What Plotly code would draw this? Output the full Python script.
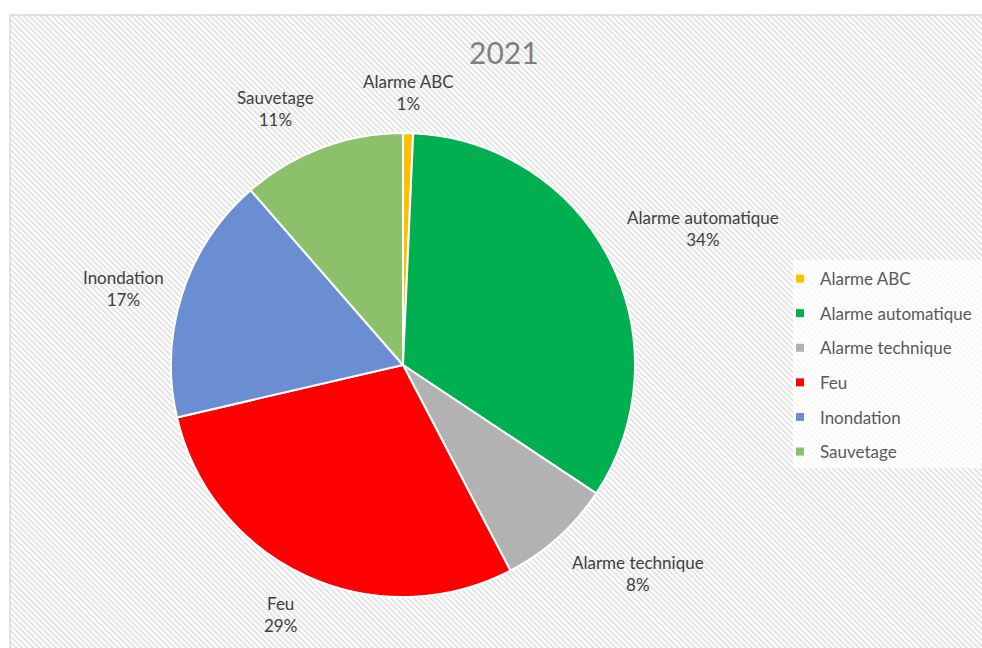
import math
import base64
import plotly.graph_objects as go

# ---------------- data ----------------
categories = ["Alarme ABC", "Alarme automatique", "Alarme technique",
              "Feu", "Inondation", "Sauvetage"]
values = [0.7, 33.6, 8.0, 29.0, 17.2, 11.4]
colors = ["#FFC000", "#00B050", "#B2B2B2", "#FF0000", "#6B8ED2", "#8CC06A"]
chart_title = "2021"

# ---------------- geometry ----------------
W, H = 982, 648
PIE_L, PIE_R, PIE_T, PIE_B = 171, 635, 133, 597
dom_x = [PIE_L / W, PIE_R / W]
dom_y = [1 - PIE_B / H, 1 - PIE_T / H]
cx, cy = (PIE_L + PIE_R) / 2, (PIE_T + PIE_B) / 2
R = (PIE_R - PIE_L) / 2
GAP = 17

FONT = "Lato, 'Open Sans', sans-serif"

fig = go.Figure()

fig.add_trace(go.Pie(
    labels=categories,
    values=values,
    sort=False,
    direction="clockwise",
    rotation=0,
    marker=dict(colors=colors, line=dict(color="#FFFFFF", width=2)),
    textinfo="none",
    hoverinfo="label+percent",
    showlegend=False,
    domain=dict(x=dom_x, y=dom_y),
))

# legend entries (square markers)
for cat, col in zip(categories, colors):
    fig.add_trace(go.Scatter(
        x=[None], y=[None], mode="markers", name=cat,
        legendgroup=cat,
        marker=dict(symbol="square", size=8, color=col),
    ))

# data labels placed outside the slices, positions derived from the values
total = sum(values)
cum = 0.0
annotations = []
for cat, v in zip(categories, values):
    mid = (cum + v / 2) / total * 2 * math.pi
    cum += v
    sx, sy = math.sin(mid), math.cos(mid)
    px = cx + (R + GAP) * sx
    py = cy - (R + GAP) * sy
    xa = "left" if sx > 0.25 else ("right" if sx < -0.25 else "center")
    ya = "bottom" if sy > 0.4 else ("top" if sy < -0.4 else "middle")
    pct = round(v / total * 100)
    annotations.append(dict(
        x=px / W, y=1 - py / H, xref="paper", yref="paper",
        text=f"{cat}<br>{pct}%", showarrow=False, align="center",
        xanchor=xa, yanchor=ya,
        font=dict(family=FONT, size=17, color="#404040"),
    ))

annotations.append(dict(
    x=504 / W, y=1 - 52 / H, xref="paper", yref="paper",
    text=chart_title, showarrow=False, xanchor="center", yanchor="middle",
    font=dict(family=FONT, size=30, color="#7F7F7F"),
))

# hatched chart-area background
svg = ("<svg xmlns='http://www.w3.org/2000/svg' width='1000' height='660'>"
       "<defs><pattern id='p' width='4' height='4' patternUnits='userSpaceOnUse' "
       "patternTransform='rotate(-45)'>"
       "<rect width='4' height='4' fill='#FFFFFF'/>"
       "<rect width='2' height='4' fill='#E4E4E4'/></pattern></defs>"
       "<rect width='100%' height='100%' fill='url(#p)'/></svg>")
src = "data:image/svg+xml;base64," + base64.b64encode(svg.encode()).decode()

fig.update_layout(
    width=W, height=H,
    margin=dict(l=0, r=0, t=0, b=0),
    paper_bgcolor="#FFFFFF",
    plot_bgcolor="rgba(0,0,0,0)",
    xaxis=dict(visible=False, range=[0, 1]),
    yaxis=dict(visible=False, range=[0, 1]),
    annotations=annotations,
    images=[dict(source=src, xref="paper", yref="paper",
                 x=10 / W, y=1 - 15 / H, sizex=1000 / W, sizey=660 / H,
                 xanchor="left", yanchor="top", sizing="stretch",
                 layer="below")],
    shapes=[
        dict(type="rect", xref="paper", yref="paper",
             x0=10 / W, x1=1000 / W, y0=1 - 670 / H, y1=1 - 15 / H,
             line=dict(color="#D9D9D9", width=1.5), fillcolor="rgba(0,0,0,0)",
             layer="below"),
        dict(type="rect", xref="paper", yref="paper",
             x0=793 / W, x1=1000 / W, y0=1 - 468 / H, y1=1 - 260 / H,
             line=dict(width=0), fillcolor="rgba(255,255,255,0.75)",
             layer="below"),
    ],
    legend=dict(
        x=780 / W, y=1 - 261 / H, xanchor="left", yanchor="top",
        bgcolor="rgba(0,0,0,0)",
        font=dict(family=FONT, size=17, color="#595959"),
        tracegroupgap=9.5,
        itemsizing="trace",
    ),
    hovermode=False,
)

fig.write_html(
    "out.html",
    config={"displayModeBar": False},
    post_script=("document.documentElement.style.margin='0';"
                 "document.body.style.margin='0';"
                 "document.documentElement.style.overflow='hidden';"
                 "document.body.style.overflow='hidden';"
                 "document.body.style.background="
                 "'repeating-linear-gradient(45deg,#ffffff 0px,#ffffff 1.4px,"
                 "#e4e4e4 1.4px,#e4e4e4 2.8px)';"),
)
